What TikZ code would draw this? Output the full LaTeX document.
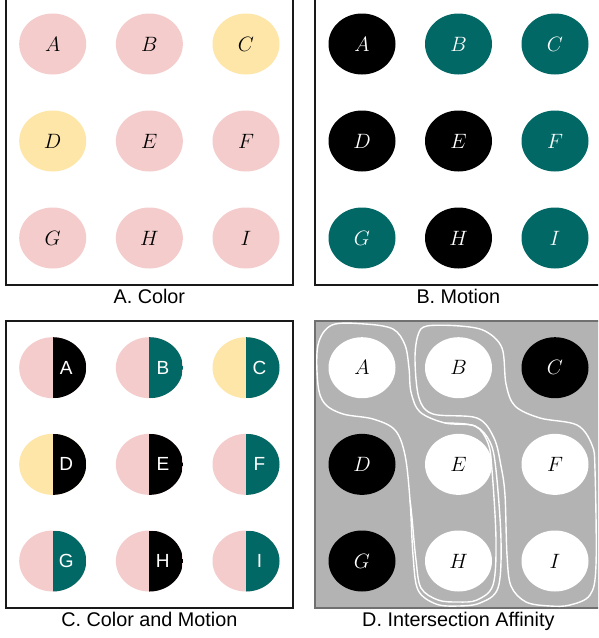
\documentclass[tikz,border=0pt]{standalone}
\usepackage{fontspec}
\newfontfamily\labelfont{Liberation Sans}
\usetikzlibrary{shapes.geometric}
\definecolor{pinkc}{HTML}{F4CCCC}
\definecolor{yellowc}{HTML}{FDE6A8}
\definecolor{tealc}{HTML}{026865}
\definecolor{grayd}{HTML}{B3B3B3}
\definecolor{grayb}{HTML}{707070}
\begin{document}
\begin{tikzpicture}[x=1pt,y=-1pt,
  box/.style={draw=black!90, line width=1.6pt, minimum width=287.3pt, minimum height=286.7pt, inner sep=0pt},
  dbox/.style={box, draw=grayb, fill=grayd},
  blob/.style={ellipse, minimum width=67pt, minimum height=61pt, inner sep=0pt, font=\fontsize{20.5}{24}\selectfont},
  half/.style 2 args={blob, fill=#1, path picture={\fill[#2] (path picture bounding box.north) rectangle (path picture bounding box.south east);}},
  cletter/.style={text=white, font=\labelfont\fontsize{19}{22}\selectfont, inner sep=0pt},
  caption/.style={font=\labelfont\fontsize{19.8}{23}\selectfont, inner sep=0pt, anchor=base},
  affinity/.style={draw=white, line width=1.4pt}
]
\useasboundingbox (0,0) rectangle (598,638);
\clip (0,0) rectangle (598,638);
\fill[white] (0,0) rectangle (598,638);

% panels
\node[box] (pA) at (149.35,141.65) {};
\node[box] (pB) at (458.35,141.65) {};
\node[box] (pC) at (149.35,464.35) {};
\node[dbox] (pD) at (458.35,464.35) {};

% ellipses
\foreach \n/\i/\j/\ca/\cb/\cd/\td in {
 A/0/0/pinkc/black/white/black,
 B/1/0/pinkc/tealc/white/black,
 C/2/0/yellowc/tealc/black/white,
 D/0/1/yellowc/black/black/white,
 E/1/1/pinkc/black/white/black,
 F/2/1/pinkc/tealc/white/black,
 G/0/2/pinkc/tealc/black/white,
 H/1/2/pinkc/black/white/black,
 I/2/2/pinkc/tealc/white/black}
{
 \pgfmathsetmacro\xl{52.7+96.65*\i}
 \pgfmathsetmacro\xr{362+96.5*\i}
 \pgfmathsetmacro\yt{44+97*\j}
 \pgfmathsetmacro\yb{367.7+96.65*\j}
 \node[blob, fill=\ca] (a\n) at (\xl,\yt) {$\n$};
 \node[blob, fill=\cb, text=white] (b\n) at (\xr,\yt) {$\n$};
 \node[half={\ca}{\cb}] (c\n) at (\xl,\yb) {};
 \node[cletter] (c\n-t) at (\xl+13.5,\yb) {\n};
 \node[blob, fill=\cd, text=\td] (d\n) at (\xr,\yb) {$\n$};
}

% affinity curves
\draw[affinity] plot[smooth cycle, tension=0.55] coordinates {
 (332,325) (365,324) (393,329) (405,345) (409,368) (411,392) (420,412)
 (445,423) (475,426) (490,442) (496,470) (501,540) (498,588) (480,603)
 (458,606) (436,604) (418,590) (413,555) (410,500) (405,455) (395,430)
 (373,419) (343,414) (325,404) (318,385) (318,345)};
\draw[affinity] plot[smooth, tension=0.55] coordinates {
 (445,423) (475,426) (488,443) (492,470) (496,540) (493,585) (477,600)
 (458,602) (438,600) (421,588) (416,560) (412,518) (410,500)};
\draw[affinity] plot[smooth cycle, tension=0.55] coordinates {
 (427,326) (460,326) (485,331) (502,348) (506,384) (515,406) (540,418)
 (577,425) (592,445) (595,470) (596,565) (590,595) (570,605) (550,606)
 (526,602) (511,586) (507,555) (505,495) (501,466) (494,438) (477,418)
 (433,414) (419,398) (415,360) (418,335)};

% captions
\node[caption] (capA) at (149.35,303.3) {A. Color};
\node[caption] (capB) at (458.35,303.3) {B. Motion};
\node[caption] (capC) at (149.35,626.5) {C. Color and Motion};
\node[caption] (capD) at (458.35,626.5) {D. Intersection Affinity};
\end{tikzpicture}
\end{document}
